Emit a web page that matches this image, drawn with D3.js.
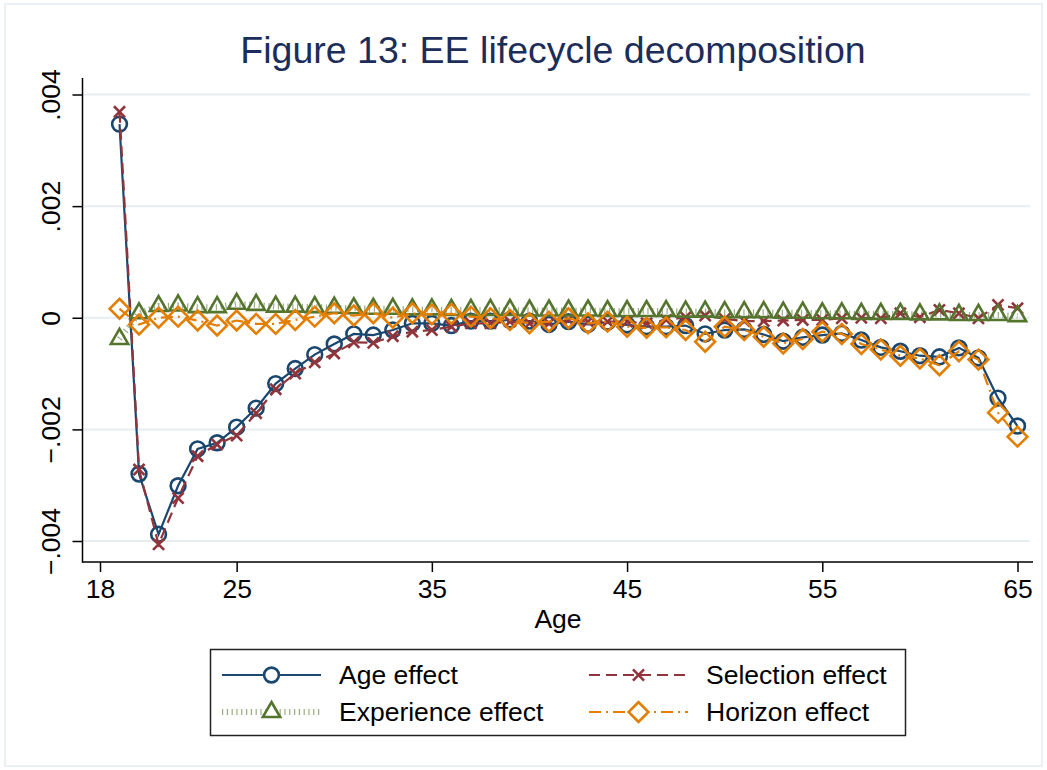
<!DOCTYPE html>
<html>
<head>
<meta charset="utf-8">
<script src="https://cdn.jsdelivr.net/npm/d3@7"></script>
<style>
  html, body { margin: 0; padding: 0; background: #fff; }
  svg { display: block; font-family: "Liberation Sans", Arial, Helvetica, sans-serif; }
</style>
</head>
<body>
<svg id="chart" width="1047" height="770"></svg>
<script>
// ages 19..65
const ages = d3.range(19, 66);

const ageEffect = [
  0.00347, -0.0028, -0.00388, -0.00301, -0.00235, -0.00224, -0.00196, -0.00162, -0.00118, -0.00091,
  -0.00066, -0.00047, -0.00029, -0.00031, -0.00022, -0.0001, -0.0001, -0.00014, -0.00006, -0.00006,
  -0.00004, -0.00006, -0.00012, -0.00007, -0.00012, -0.00008, -0.00013, -0.00016, -0.00016, -0.00014,
  -0.00029, -0.00022, -0.00021, -0.0003, -0.00042, -0.00035, -0.00031, -0.00028, -0.0004, -0.00053,
  -0.0006, -0.00068, -0.0007, -0.00054, -0.00072, -0.00144, -0.00194
];

const selectionEffect = [
  0.00369, -0.00272, -0.00406, -0.00323, -0.00248, -0.00227, -0.00211, -0.00171, -0.00128, -0.001,
  -0.0008, -0.00064, -0.00044, -0.00045, -0.00033, -0.00025, -0.00022, -0.00016, -0.0001, -0.0001,
  -0.00007, -0.0001, -0.0001, -0.00004, -0.00007, -0.00007, -0.00007, -0.0001, -0.00004, 0.00001,
  0.00004, -0.00002, -0.00006, -0.00006, -0.00005, -0.00004, -0.00004, -0.00001, 0, -0.00001,
  0.00008, 0.00001, 0.00014, 0.00008, -0.00001, 0.00023, 0.00017
];

const experienceEffect = [
  -0.00038, 0.00008, 0.00021, 0.00022, 0.00019, 0.00019, 0.00025, 0.00023, 0.0002, 0.0002,
  0.00019, 0.00018, 0.00017, 0.00016, 0.00016, 0.00015, 0.00015, 0.00014, 0.00014, 0.00014,
  0.00014, 0.00013, 0.00013, 0.00013, 0.00013, 0.00012, 0.00012, 0.00012, 0.00012, 0.00011,
  0.00011, 0.0001, 0.0001, 0.0001, 0.00009, 0.00009, 0.00008, 0.00008, 0.00007, 0.00007,
  0.00007, 0.00006, 0.00006, 0.00005, 0.00005, 0.00005, 0.00003
];

const horizonEffect = [
  0.00016, -0.00012, 0, 0.00002, -0.00005, -0.00014, -0.00005, -0.00011, -0.00011, -0.00004,
  0.00002, 0.00008, 0.00004, 0.00008, 0, 0.00008, 0.00006, 0.00007, 0.00002, -0.00001,
  -0.00004, -0.0001, -0.00007, -0.00001, -0.0001, -0.00007, -0.00016, -0.00018, -0.00017, -0.00022,
  -0.00043, -0.00016, -0.00022, -0.00034, -0.00046, -0.00038, -0.00025, -0.00029, -0.00047, -0.00057,
  -0.00068, -0.00073, -0.00085, -0.0006, -0.00075, -0.0017, -0.00213
];

const xTicks = [18, 25, 35, 45, 55, 65];
const yTicks = [-0.004, -0.002, 0, 0.002, 0.004];

const series = [
  { name: "Age effect", values: ageEffect, color: "#1a476f", dash: null, width: 2.2, symbol: "circle" },
  { name: "Selection effect", values: selectionEffect, color: "#90353b", dash: "11,6", width: 2.2, symbol: "x" },
  { name: "Experience effect", values: experienceEffect, color: "#55752f", dash: "1.2,3.6", width: 6, opacity: 0.6, symbol: "triangle" },
  { name: "Horizon effect", values: horizonEffect, color: "#e37e00", dash: "12,5,2,5", width: 2.2, symbol: "diamond" },
];

const svg = d3.select("#chart");
const plot = { left: 82.5, right: 1033, top: 78, bottom: 562 };

const x = d3.scaleLinear().domain([18, 65]).range([100, 1017.5]);
const y = d3.scaleLinear().domain([-0.004, 0.004]).range([541, 94.5]);

// outer graph region outline
svg.append("rect")
  .attr("x", 5).attr("y", 4).attr("width", 1037).attr("height", 762)
  .attr("fill", "none").attr("stroke", "#e4ecef").attr("stroke-width", 1.5);

// title
svg.append("text")
  .attr("x", 553).attr("y", 62.5)
  .attr("text-anchor", "middle")
  .attr("fill", "#1c2d5a")
  .attr("font-size", 37.5)
  .text("Figure 13: EE lifecycle decomposition");

// gridlines
svg.append("g").selectAll("line").data(yTicks).enter().append("line")
  .attr("x1", plot.left + 1).attr("x2", plot.right - 3)
  .attr("y1", (d) => y(d)).attr("y2", (d) => y(d))
  .attr("stroke", "#e6eef1").attr("stroke-width", 2);

// axes
const fmtY = (d) => (d === 0 ? "0" : (d < 0 ? "\u2212" : "") + String(Math.abs(d)).replace(/^0/, ""));

const yAxis = svg.append("g")
  .attr("transform", `translate(${plot.left},0)`)
  .call(d3.axisLeft(y).tickValues(yTicks).tickSize(10).tickFormat(fmtY));
yAxis.select(".domain").remove();
yAxis.selectAll(".tick line").attr("stroke", "#000").attr("stroke-width", 1.5);
yAxis.selectAll(".tick text")
  .attr("font-size", 26.5)
  .attr("fill", "#000")
  .attr("text-anchor", "middle")
  .attr("x", null).attr("dy", null)
  .attr("transform", "translate(-23,0) rotate(-90)");

const xAxis = svg.append("g")
  .attr("transform", `translate(0,${plot.bottom})`)
  .call(d3.axisBottom(x).tickValues(xTicks).tickSize(10).tickFormat(d3.format("d")));
xAxis.select(".domain").remove();
xAxis.selectAll(".tick line").attr("stroke", "#000").attr("stroke-width", 1.5);
xAxis.selectAll(".tick text")
  .attr("font-size", 26.5)
  .attr("fill", "#000")
  .attr("y", 36).attr("dy", null);

svg.append("line")
  .attr("x1", plot.left).attr("x2", plot.left)
  .attr("y1", plot.top).attr("y2", plot.bottom + 0.75)
  .attr("stroke", "#000").attr("stroke-width", 1.5);
svg.append("line")
  .attr("x1", plot.left).attr("x2", plot.right)
  .attr("y1", plot.bottom).attr("y2", plot.bottom)
  .attr("stroke", "#000").attr("stroke-width", 1.5);

svg.append("text")
  .attr("x", 558).attr("y", 628)
  .attr("text-anchor", "middle")
  .attr("font-size", 26.5)
  .text("Age");

// marker shapes
const symbolPath = {
  circle: d3.symbol().type(d3.symbolCircle).size(Math.PI * 7.4 * 7.4)(),
  x: d3.symbol().type(d3.symbolX).size(82)(),
  triangle: d3.symbol().type(d3.symbolTriangle).size(130)(),
  diamond: d3.symbol().type(d3.symbolSquare).size(195)(),
};

function drawMarker(sel, s) {
  sel.append("path")
    .attr("d", symbolPath[s.symbol])
    .attr("transform", s.symbol === "diamond" ? "rotate(45)" : null)
    .attr("fill", "none")
    .attr("stroke", s.color)
    .attr("stroke-width", 2.6);
}

const line = d3.line().x((d) => x(d.age)).y((d) => y(d.v));

const plotLayer = svg.append("g");
series.forEach((s) => {
  const pts = ages.map((age, i) => ({ age, v: s.values[i] }));
  const g = plotLayer.append("g");
  g.append("path")
    .datum(pts)
    .attr("d", line)
    .attr("fill", "none")
    .attr("stroke", s.color)
    .attr("stroke-width", s.width)
    .attr("stroke-opacity", s.opacity || 1)
    .attr("stroke-dasharray", s.dash);
  g.selectAll("g.pt").data(pts).enter().append("g")
    .attr("class", "pt")
    .attr("transform", (d) => `translate(${x(d.age)},${y(d.v)})`)
    .each(function () { drawMarker(d3.select(this), s); });
});

// legend
const legend = svg.append("g");
legend.append("rect")
  .attr("x", 210.5).attr("y", 649.5).attr("width", 695).attr("height", 86)
  .attr("fill", "#fff").attr("stroke", "#222").attr("stroke-width", 1.5);

const legendCols = [222, 589];
const legendRows = [675, 712];
series.forEach((s, i) => {
  const lx = legendCols[i % 2];
  const ly = legendRows[Math.floor(i / 2)];
  const item = legend.append("g").attr("transform", `translate(${lx},${ly})`);
  item.append("line")
    .attr("x1", 0).attr("x2", 99).attr("y1", 0).attr("y2", 0)
    .attr("stroke", s.color)
    .attr("stroke-width", s.width)
    .attr("stroke-opacity", s.opacity || 1)
    .attr("stroke-dasharray", s.dash);
  const m = item.append("g").attr("transform", "translate(49.5,0)");
  m.append("path")
    .attr("d", symbolPath[s.symbol])
    .attr("transform", s.symbol === "diamond" ? "rotate(45)" : null)
    .attr("fill", "#fff")
    .attr("stroke", "none");
  drawMarker(m, s);
  item.append("text")
    .attr("x", 117).attr("y", 9)
    .attr("font-size", 26.5)
    .text(s.name);
});
</script>
</body>
</html>
